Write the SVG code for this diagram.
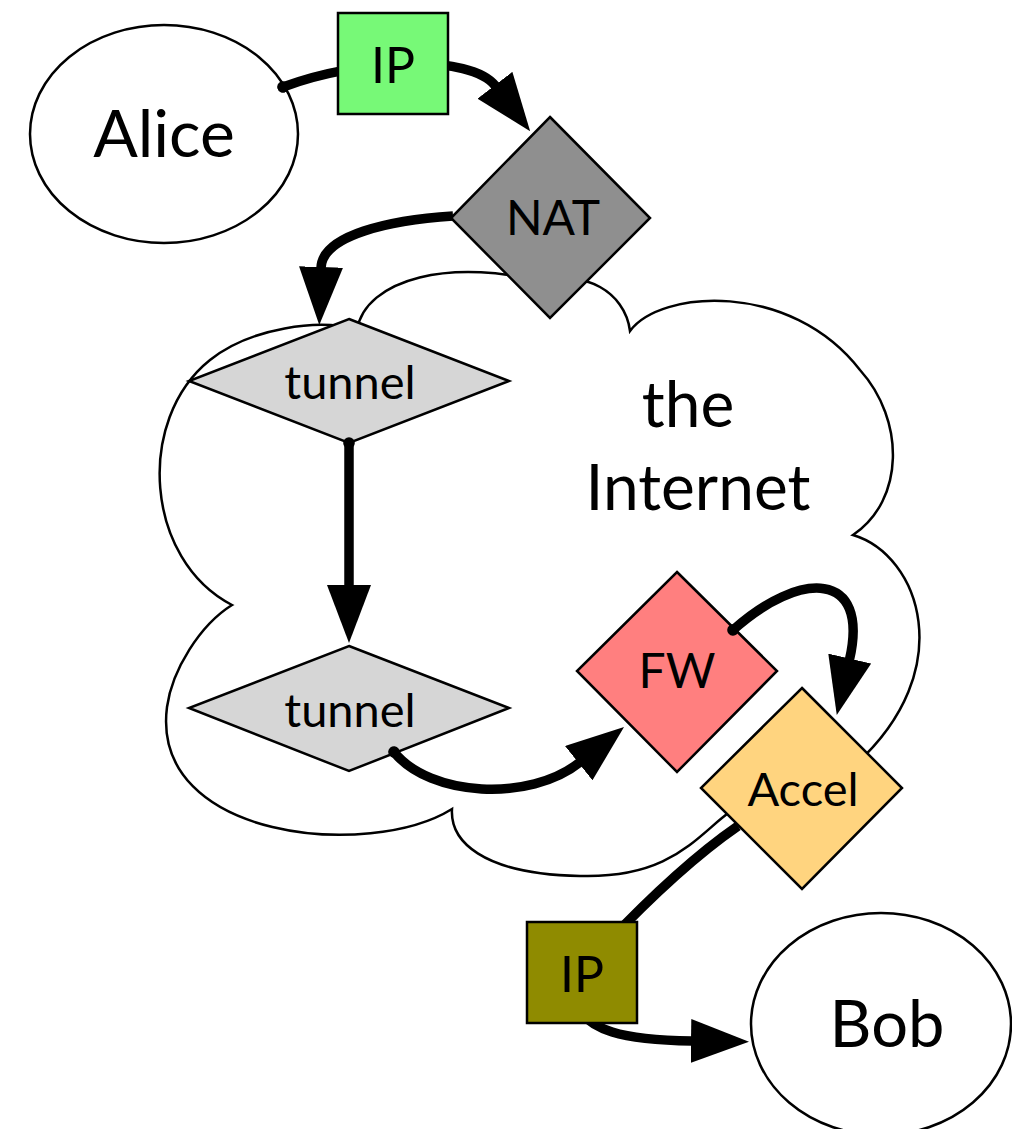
<svg xmlns="http://www.w3.org/2000/svg" width="1012" height="1129" viewBox="0 0 1012 1129">
  <style>
    .node { stroke: #000; stroke-width: 2.5; }
    .label { font-family: Lato, "Open Sans", "Liberation Sans", sans-serif; fill: #000; text-anchor: middle; }
    .edge { fill: none; stroke: #000; stroke-width: 9.5; stroke-linecap: butt; }
    .cloud { fill: #fff; stroke: #000; stroke-width: 2.5; stroke-linejoin: miter; }
  </style>
  <defs>
    <marker id="head" viewBox="0 -22 58 44" refX="1" refY="0" markerWidth="58" markerHeight="44" markerUnits="userSpaceOnUse" orient="auto">
      <polygon points="0,-22 58,0 0,22" fill="#000"/>
    </marker>
    <marker id="tail" viewBox="-6 -6 12 12" refX="0" refY="0" markerWidth="12" markerHeight="12" markerUnits="userSpaceOnUse" orient="auto">
      <circle cx="0" cy="0" r="5.8" fill="#000"/>
    </marker>
  </defs>

  <!-- cloud: the Internet -->
  <g id="internet">
    <path class="cloud" d="M357,330
      C365,280 450,255 555,285
      C580,270 625,290 630,331
      C660,290 790,280 860,370
      C905,420 905,500 853,535
      C920,555 960,670 855,765
      L800,790
      C705,785 715,880 580,876
      C480,874 450,840 452,809
      C370,860 150,840 167,707
      C172,670 200,625 232,605
      C145,560 135,420 210,360
      C250,328 320,318 357,330 Z"/>
    <text class="label" x="688" y="427" font-size="64">the</text>
    <text class="label" x="698" y="510" font-size="64">Internet</text>
  </g>

  <!-- endpoints and devices -->
  <g id="alice">
    <ellipse class="node" cx="164" cy="134" rx="134" ry="109" fill="#fff"/>
    <text class="label" x="164" y="157" font-size="66">Alice</text>
  </g>
  <g id="nat">
    <polygon class="node" points="550,117 650,218 550,318 451,218" fill="#8f8f8f"/>
    <text class="label" x="553" y="235" font-size="48">NAT</text>
  </g>
  <g id="tunnel-a">
    <polygon class="node" points="349,319 509,381 349,443 189,381" fill="#d6d6d6"/>
    <text class="label" x="350" y="399" font-size="47">tunnel</text>
  </g>
  <g id="tunnel-b">
    <polygon class="node" points="349,646 509,708 349,771 189,708" fill="#d6d6d6"/>
    <text class="label" x="350" y="727" font-size="47">tunnel</text>
  </g>
  <g id="fw">
    <polygon class="node" points="677,572 777,671 677,772 577,671" fill="#ff7f7f"/>
    <text class="label" x="677" y="688" font-size="48">FW</text>
  </g>
  <g id="accel">
    <polygon class="node" points="802,688 902,788 802,889 701,788" fill="#ffd47f"/>
    <text class="label" x="803" y="806" font-size="47">Accel</text>
  </g>
  <g id="bob">
    <ellipse class="node" cx="881" cy="1024" rx="130" ry="111" fill="#fff"/>
    <text class="label" x="887" y="1047" font-size="65">Bob</text>
  </g>

  <!-- connectors -->
  <g id="connectors">
    <path class="edge" d="M283,87 C360,58 471,54 495.5,86" marker-start="url(#tail)" marker-end="url(#head)"/>
    <path class="edge" d="M453,216 C390,220 322,235 321,268" marker-end="url(#head)"/>
    <path class="edge" d="M349,443 L349,586" marker-start="url(#tail)" marker-end="url(#head)"/>
    <path class="edge" d="M394,752 C430,797 530,802 579.5,762.5" marker-start="url(#tail)" marker-end="url(#head)"/>
    <path class="edge" d="M733,630 C800,570 870,570 849.5,659.5" marker-start="url(#tail)" marker-end="url(#head)"/>
    <path class="edge" d="M738,826 Q680,866 605,945"/>
    <path class="edge" d="M575,1005 C590,1030 620,1040 692,1041" marker-end="url(#head)"/>
  </g>

  <!-- packet labels sitting on the links -->
  <g id="ip-out">
    <rect class="node" x="338" y="13" width="110" height="101" fill="#77f977"/>
    <text class="label" x="393" y="83" font-size="50">IP</text>
  </g>
  <g id="ip-in">
    <rect class="node" x="527" y="922" width="110" height="101" fill="#8f8b00"/>
    <text class="label" x="582" y="992" font-size="50">IP</text>
  </g>
</svg>
